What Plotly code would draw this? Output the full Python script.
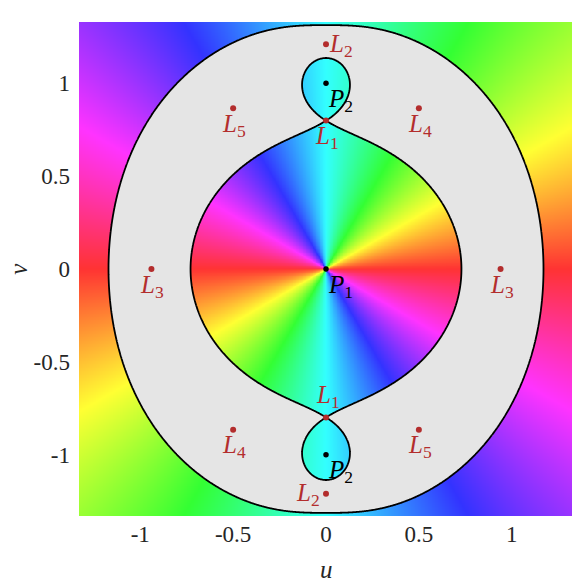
import numpy as np
import plotly.graph_objects as go

# mass ratio of the smaller primary P2
mu = 0.2

# Lagrange points in the regularised (u, v) plane
lag_names = ['L1', 'L1', 'L2', 'L2', 'L3', 'L3', 'L4', 'L4', 'L5', 'L5']
lag_u = [0.0, 0.0, 0.0, 0.0, 0.94, -0.94, 0.5, -0.5, -0.5, 0.5]
lag_v = [0.80, -0.80, 1.21, -1.21, 0.0, 0.0, 0.866, -0.866, 0.866, -0.866]

# primaries
prim_names = ['P1', 'P2', 'P2']
prim_u = [0.0, 0.0, 0.0]
prim_v = [0.0, 1.0, -1.0]

tick_vals = [-1, -0.5, 0, 0.5, 1]
tick_text = ['-1', '-0.5', '0', '0.5', '1']

AX = 1.33
FONT = 'Liberation Serif'
RED = 'rgb(179,45,45)'
TXT = '#262626'


def omega(x, y):
    """effective potential, P1 at the origin, P2 at x=-1"""
    r1 = np.hypot(x, y)
    r2 = np.hypot(x + 1, y)
    with np.errstate(divide='ignore', invalid='ignore'):
        w = 0.5 * ((x + mu) ** 2 + y ** 2) + (1 - mu) / r1 + mu / r2
    return np.minimum(np.nan_to_num(w, nan=50.0, posinf=50.0), 50.0)


# level of the zero-velocity curve through L1 (minimum of omega between the primaries)
xs = np.linspace(-0.95, -0.3, 20001)
c_l1 = omega(xs, np.zeros_like(xs)).min()

# grid in (u, v); z = (u + iv)^2 gives the physical plane
n = 641
g = np.linspace(-AX, AX, n)
U, V = np.meshgrid(g, g)
Z = (U + 1j * V) ** 2
W = omega(Z.real, Z.imag)

hue = ((np.angle(Z) / (2 * np.pi)) % 1.0).astype(np.float32)
forbidden = np.where(W < c_l1, 1.0, np.nan).astype(np.float32)

s = 51  # 0.8 saturation
hsv_scale = [
    [0 / 6, f'rgb(255,{s},{s})'],
    [1 / 6, f'rgb(255,255,{s})'],
    [2 / 6, f'rgb({s},255,{s})'],
    [3 / 6, f'rgb({s},255,255)'],
    [4 / 6, f'rgb({s},{s},255)'],
    [5 / 6, f'rgb(255,{s},255)'],
    [6 / 6, f'rgb(255,{s},{s})'],
]

fig = go.Figure()
fig.add_trace(go.Heatmap(
    x=g, y=g, z=hue, zmin=0, zmax=1,
    colorscale=hsv_scale, showscale=False, hoverinfo='skip',
))
fig.add_trace(go.Heatmap(
    x=g, y=g, z=forbidden, zmin=0, zmax=1,
    colorscale=[[0, '#e5e5e5'], [1, '#e5e5e5']], showscale=False, hoverinfo='skip',
))
fig.add_trace(go.Contour(
    x=g, y=g, z=W.astype(np.float32),
    autocontour=False,
    contours=dict(start=c_l1, end=c_l1, size=1, coloring='lines'),
    colorscale=[[0, 'black'], [1, 'black']],
    line=dict(width=1.8), showscale=False, hoverinfo='skip',
))
fig.add_trace(go.Scatter(
    x=lag_u, y=lag_v, mode='markers',
    marker=dict(size=6, color=RED), hoverinfo='skip', showlegend=False,
))
fig.add_trace(go.Scatter(
    x=prim_u, y=prim_v, mode='markers',
    marker=dict(size=5.5, color='black'), hoverinfo='skip', showlegend=False,
))

# label placement (pixels): below, right, left, above, below-right
shifts = {
    'below': (1, -17),
    'right': (15, -1),
    'left': (-18, -1),
    'above': (2, 21),
    'belowright': (14, -17),
}
lag_place = ['below', 'above', 'right', 'left', 'below', 'below',
             'below', 'below', 'below', 'below']
for name, u, v, p in zip(lag_names, lag_u, lag_v, lag_place):
    dx, dy = shifts[p]
    fig.add_annotation(
        x=u, y=v, text=f'<i>{name[0]}</i><sub>{name[1]}</sub>', showarrow=False,
        xshift=dx, yshift=dy, font=dict(family=FONT, size=25, color=RED),
    )
for name, u, v in zip(prim_names, prim_u, prim_v):
    dx, dy = shifts['belowright']
    fig.add_annotation(
        x=u, y=v, text=f'<i>{name[0]}</i><sub>{name[1]}</sub>', showarrow=False,
        xshift=dx, yshift=dy, font=dict(family=FONT, size=25, color='black'),
    )

# axis titles
fig.add_annotation(x=0.5, y=-0.109, xref='paper', yref='paper', text='<i>u</i>',
                   xanchor='center', yanchor='middle',
                   showarrow=False, font=dict(family=FONT, size=25, color=TXT))
fig.add_annotation(x=-0.124, y=0.5, xref='paper', yref='paper', text='<i>v</i>',
                   xanchor='center', yanchor='middle', textangle=-90,
                   showarrow=False, font=dict(family=FONT, size=25, color=TXT))

axis = dict(
    range=[-AX, AX], showgrid=False, zeroline=False, showline=False, ticks='',
    tickvals=tick_vals, ticktext=tick_text, automargin=False,
    tickfont=dict(family=FONT, size=23, color=TXT),
)
# page body adds an 8px offset, so the figure is 8px smaller than the window
fig.update_layout(
    width=572, height=580,
    margin=dict(l=71, r=7, t=14, b=72),
    paper_bgcolor='white', plot_bgcolor='white',
    showlegend=False,
    xaxis=dict(axis, ticklabelstandoff=2),
    yaxis=dict(axis, ticklabelstandoff=8),
)
fig.write_html('out.html')
